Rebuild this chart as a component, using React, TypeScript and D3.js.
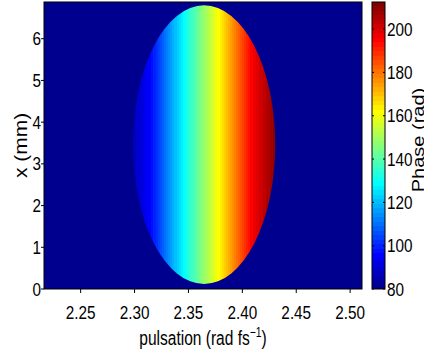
import React from "react";
import * as d3 from "d3";

// ---- data ----
const xDomain = [2.216, 2.511];
const yDomain = [0, 6.88];
const phaseDomain = [80, 212.5];
const xTicks = [2.25, 2.3, 2.35, 2.4, 2.45, 2.5];
const yTicks = [0, 1, 2, 3, 4, 5, 6];
const phaseTicks = [80, 100, 120, 140, 160, 180, 200];
// phase (rad) along pulsation inside the illuminated region
const pulsationSamples = [2.298, 2.316, 2.347, 2.379, 2.4095, 2.431];
const phaseSamples = [86, 97, 130, 163, 196, 210];
// elliptical support of the spectrum (pulsation centre/half-width, x centre/half-height)
const ellipseCenter = [2.3645, 3.46];
const ellipseRadius = [0.066, 3.34];

// MATLAB jet(64)
function jet64(): string[] {
  const m = 64;
  const n = 16;
  const u: number[] = [];
  for (let i = 1; i <= n; i++) u.push(i / n);
  for (let i = 0; i < n - 1; i++) u.push(1);
  for (let i = n; i >= 1; i--) u.push(i / n);
  const J = Array.from({ length: m }, () => [0, 0, 0]);
  const L = u.length;
  const g0 = Math.ceil(n / 2) - (m % 4 === 1 ? 1 : 0);
  const gIdx: number[] = [];
  for (let i = 1; i <= L; i++) gIdx.push(g0 + i);
  const r = gIdx.map((v) => v + n).filter((v) => v <= m);
  const g = gIdx.filter((v) => v <= m);
  const b = gIdx.map((v) => v - n).filter((v) => v >= 1);
  r.forEach((idx, k) => (J[idx - 1][0] = u[k]));
  g.forEach((idx, k) => (J[idx - 1][1] = u[k]));
  b.forEach((idx, k) => (J[idx - 1][2] = u[L - b.length + k]));
  return J.map(([rr, gg, bb]) => d3.rgb(rr * 255, gg * 255, bb * 255).formatHex());
}
const JET = jet64();

const W = 424;
const H = 359;
const L = 44, R = 362, T = 2, B = 289;
const CB_L = 372, CB_R = 385;
const FONT = "'Liberation Sans', Arial, Helvetica, sans-serif";

function Txt(props: {
  x: number; y: number; sx?: number; rot?: number; anchor?: string; size: number; children: any;
}) {
  const { x, y, sx = 0.85, rot = 0, anchor = "middle", size, children } = props;
  return (
    <text
      transform={`translate(${x},${y}) scale(${sx},1)${rot ? ` rotate(${rot})` : ""}`}
      textAnchor={anchor}
      fontSize={size}
      fontFamily={FONT}
      fill="#000"
    >
      {children}
    </text>
  );
}

export default function App() {
  const x = d3.scaleLinear().domain(xDomain).range([L, R]);
  const y = d3.scaleLinear().domain(yDomain).range([B, T]);
  const c = d3.scaleLinear().domain(phaseDomain).range([B, T]);
  const span = phaseDomain[1] - phaseDomain[0];
  const binOf = (v: number) =>
    Math.max(0, Math.min(63, Math.floor(((v - phaseDomain[0]) / span) * 64)));

  // gradient stops for the ellipse (quantized like MATLAB's colormap)
  const phaseToPuls = d3.scaleLinear().domain(phaseSamples).range(pulsationSamples);
  const pLo = phaseSamples[0];
  const pHi = phaseSamples[phaseSamples.length - 1];
  const ellStops: { off: number; col: string }[] = [];
  for (let k = 0; k < 64; k++) {
    const a = phaseDomain[0] + (k * span) / 64;
    const b = phaseDomain[0] + ((k + 1) * span) / 64;
    if (b <= pLo || a >= pHi) continue;
    const lo = Math.max(a, pLo);
    const hi = Math.min(b, pHi);
    const o1 = (x(phaseToPuls(lo)) - L) / (R - L);
    const o2 = (x(phaseToPuls(hi)) - L) / (R - L);
    ellStops.push({ off: o1, col: JET[k] });
    ellStops.push({ off: o2, col: JET[k] });
  }
  const firstCol = JET[binOf(pLo)];
  const lastCol = JET[binOf(pHi - 0.01)];

  const cbStops: { off: number; col: string }[] = [];
  for (let k = 0; k < 64; k++) {
    cbStops.push({ off: k / 64, col: JET[k] });
    cbStops.push({ off: (k + 1) / 64, col: JET[k] });
  }

  const ecx = x(ellipseCenter[0]);
  const ecy = y(ellipseCenter[1]);
  const erx = x(ellipseCenter[0] + ellipseRadius[0]) - ecx;
  const ery = ecy - y(ellipseCenter[1] + ellipseRadius[1]);

  return (
    <svg
      width={W}
      height={H}
      style={{ position: "absolute", left: 0, top: 0, background: "#fff" }}
    >
      <defs>
        <linearGradient id="ellGrad" gradientUnits="userSpaceOnUse" x1={L} x2={R} y1={0} y2={0}>
          <stop offset={0} stopColor={firstCol} />
          {ellStops.map((s, i) => (
            <stop key={i} offset={s.off} stopColor={s.col} />
          ))}
          <stop offset={1} stopColor={lastCol} />
        </linearGradient>
        <linearGradient id="cbGrad" x1={0} x2={0} y1={1} y2={0}>
          {cbStops.map((s, i) => (
            <stop key={i} offset={s.off} stopColor={s.col} />
          ))}
        </linearGradient>
      </defs>

      {/* heat map */}
      <rect x={L} y={T} width={R - L} height={B - T} fill={JET[0]} />
      <ellipse cx={ecx} cy={ecy} rx={erx} ry={ery} fill="url(#ellGrad)" />
      <rect x={L} y={T} width={R - L} height={B - T} fill="none" stroke="#000" strokeWidth={1} />

      {/* x ticks */}
      {xTicks.map((t) => (
        <g key={t}>
          <line x1={x(t)} x2={x(t)} y1={B} y2={B + 4} stroke="#000" />
          <Txt x={x(t)} y={319} size={18}>{t.toFixed(2)}</Txt>
        </g>
      ))}
      {/* y ticks */}
      {yTicks.map((t) => (
        <g key={t}>
          <line x1={L - 3} x2={L} y1={y(t)} y2={y(t)} stroke="#000" />
          <Txt x={41} y={y(t) + 6.5} size={18} anchor="end">{String(t)}</Txt>
        </g>
      ))}

      <Txt x={(L + R) / 2} y={345} size={21} sx={0.74}>
        pulsation (rad fs
        <tspan dy={-8} fontSize={14}>−1</tspan>
        <tspan dy={8}>)</tspan>
      </Txt>
      <Txt x={27} y={(T + B) / 2} size={21} sx={0.85} rot={-90}>x (mm)</Txt>

      {/* colorbar */}
      <rect x={CB_L} y={T} width={CB_R - CB_L} height={B - T} fill="url(#cbGrad)" stroke="#000" strokeWidth={1} />
      {phaseTicks.map((t) => (
        <g key={t}>
          <line x1={CB_L} x2={CB_L + 2} y1={c(t)} y2={c(t)} stroke="#000" />
          <line x1={CB_R - 2} x2={CB_R} y1={c(t)} y2={c(t)} stroke="#000" />
          <Txt x={387} y={c(t) + 6.5} size={18} anchor="start">{String(t)}</Txt>
        </g>
      ))}
      <Txt x={424} y={140} size={20} sx={0.8} rot={-90}>Phase (rad)</Txt>
    </svg>
  );
}
